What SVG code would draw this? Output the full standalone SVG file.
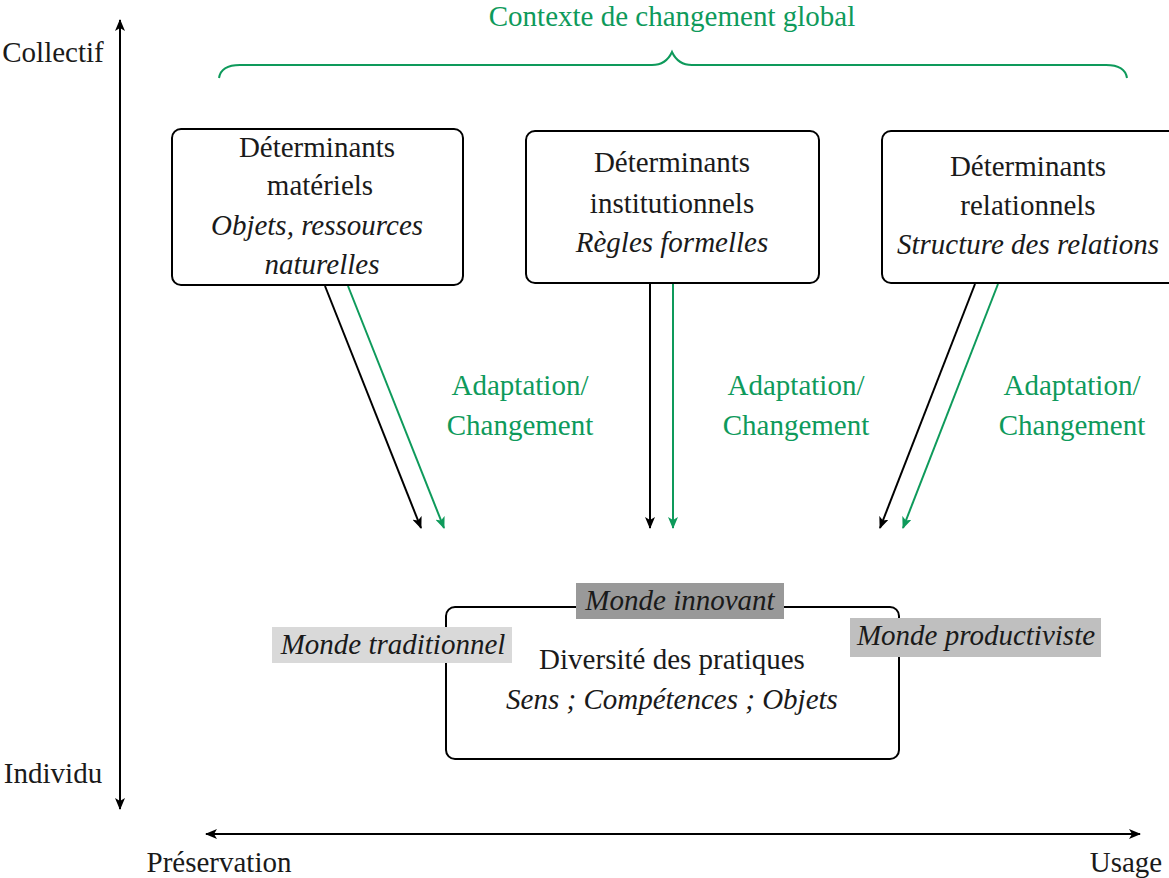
<svg xmlns="http://www.w3.org/2000/svg" width="1169" height="878" viewBox="0 0 1169 878">
<style>
text{font-family:"Liberation Serif","DejaVu Serif",serif;font-size:29px;fill:#1a1a1a;text-anchor:middle}
.it{font-style:italic}
.g{fill:#0e9a5b}
.box{fill:#fff;stroke:#000;stroke-width:2}
.lk{stroke:#000;stroke-width:2;fill:none}
.lg{stroke:#0e9a5b;stroke-width:2;fill:none}
</style>
<defs>
<marker id="ak" viewBox="0 0 12 10" refX="11" refY="5" markerWidth="12" markerHeight="10" markerUnits="userSpaceOnUse" orient="auto-start-reverse"><path d="M0,0 L12,5 L0,10 L3,5 Z" fill="#000"/></marker>
<marker id="ag" viewBox="0 0 12 10" refX="11" refY="5" markerWidth="12" markerHeight="10" markerUnits="userSpaceOnUse" orient="auto-start-reverse"><path d="M0,0 L12,5 L0,10 L3,5 Z" fill="#0e9a5b"/></marker>
</defs>
<rect width="1169" height="878" fill="#fff"/>
<g id="context">
<text class="g" x="672" y="26">Contexte de changement global</text>
<path class="lg" stroke-width="1.1" d="M219,78 Q221,65 240,65 L652,65 Q666,65 672,52 Q678,65 692,65 L1106,65 Q1125,65 1127,78"/>
</g>
<g id="axes">
<line class="lk" x1="120" y1="20" x2="120" y2="809" marker-start="url(#ak)" marker-end="url(#ak)"/>
<line class="lk" x1="206" y1="834" x2="1140" y2="834" marker-start="url(#ak)" marker-end="url(#ak)"/>
<text x="53" y="62">Collectif</text>
<text x="53" y="783">Individu</text>
<text x="219" y="872">Préservation</text>
<text x="1126" y="872">Usage</text>
</g>
<g id="connectors">
<line class="lk" x1="325" y1="286" x2="421" y2="528" marker-end="url(#ak)"/>
<line class="lg" x1="348" y1="286" x2="444" y2="528" marker-end="url(#ag)"/>
<line class="lk" x1="650" y1="284" x2="650" y2="528" marker-end="url(#ak)"/>
<line class="lg" x1="673" y1="284" x2="673" y2="528" marker-end="url(#ag)"/>
<line class="lk" x1="975" y1="284" x2="880" y2="528" marker-end="url(#ak)"/>
<line class="lg" x1="998" y1="284" x2="903" y2="528" marker-end="url(#ag)"/>
<text class="g" x="520" y="395">Adaptation/</text>
<text class="g" x="520" y="435">Changement</text>
<text class="g" x="796" y="395">Adaptation/</text>
<text class="g" x="796" y="435">Changement</text>
<text class="g" x="1072" y="395">Adaptation/</text>
<text class="g" x="1072" y="435">Changement</text>
</g>
<g id="materiels">
<rect class="box" x="172" y="129" width="291" height="156" rx="9"/>
<text x="317" y="157">Déterminants</text>
<text x="320" y="195">matériels</text>
<text class="it" x="317" y="235">Objets, ressources</text>
<text class="it" x="322" y="274">naturelles</text>
</g>
<g id="institutionnels">
<rect class="box" x="526" y="131" width="293" height="152" rx="9"/>
<text x="672" y="172">Déterminants</text>
<text x="672" y="213">institutionnels</text>
<text class="it" x="672" y="252">Règles formelles</text>
</g>
<g id="relationnels">
<rect class="box" x="882" y="131" width="295" height="152" rx="9"/>
<text x="1028" y="176">Déterminants</text>
<text x="1028" y="215">relationnels</text>
<text class="it" x="1028" y="254">Structure des relations</text>
</g>
<g id="pratiques">
<rect class="box" x="446" y="607" width="453" height="152" rx="9"/>
<text x="672" y="669">Diversité des pratiques</text>
<text class="it" x="672" y="709">Sens ; Compétences ; Objets</text>
</g>
<g id="innovant">
<rect x="576" y="583" width="208" height="36" fill="#999999"/>
<text class="it" x="680" y="610">Monde innovant</text>
</g>
<g id="traditionnel">
<rect x="272" y="627" width="240" height="36" fill="#d9d9d9"/>
<text class="it" x="393" y="654">Monde traditionnel</text>
</g>
<g id="productiviste">
<rect x="850" y="618" width="251" height="39" fill="#bfbfbf"/>
<text class="it" x="976" y="645">Monde productiviste</text>
</g>
</svg>
